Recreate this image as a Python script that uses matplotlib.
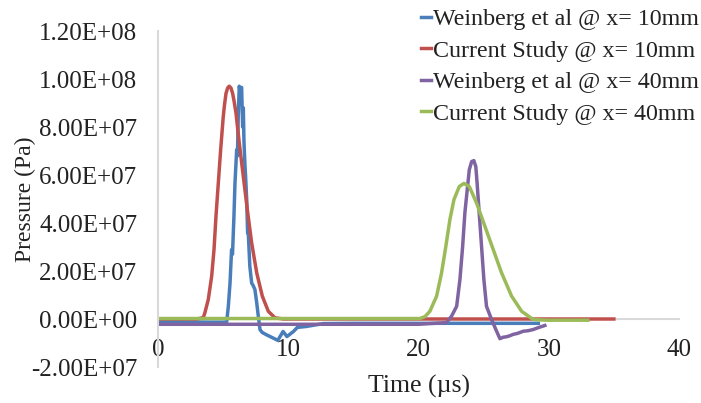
import matplotlib
matplotlib.use("Agg")
import matplotlib.pyplot as plt

plt.rcParams['font.family'] = ['Liberation Serif', 'DejaVu Serif']

# Weinberg et al, x = 10 mm (measured)
t_w10 = [0.0, 2.0, 4.0, 5.27, 5.4, 5.53, 5.65, 5.72, 5.83, 5.91, 6.04, 6.1, 6.16, 6.24,
         6.3, 6.42, 6.5, 6.55, 6.6, 6.68, 6.72, 6.81, 6.88, 6.93, 7.05, 7.19, 7.3, 7.44,
         7.58, 7.7, 7.83, 8.0, 8.3, 8.6, 9.2, 9.6, 9.9, 10.4, 10.7, 11.4, 12.7, 15.0,
         20.0, 25.0, 29.2]
p_w10 = [-1.2e6, -1.2e6, -1.3e6, -1.3e6, 5.3e6, 15e6, 28.9e6, 27e6, 42.7e6, 56.6e6,
         70.5e6, 68e6, 84.3e6, 97e6, 95e6, 96.5e6, 80e6, 88e6, 74e6, 63.5e6, 60e6,
         49.7e6, 35.8e6, 36e6, 22e6, 15e6, 14e6, 12.3e6, 6.7e6, 1.2e6, -4.4e6, -5.6e6,
         -6.5e6, -7.3e6, -8.9e6, -5.2e6, -7.3e6, -5.2e6, -3.5e6, -3.1e6, -1.9e6, -1.8e6,
         -1.8e6, -1.8e6, -1.8e6]

# Current study, x = 10 mm
t_c10 = [0.0, 3.0, 3.48, 3.6, 3.86, 4.12, 4.3, 4.45, 4.63, 4.81, 5.01, 5.1, 5.22,
         5.35, 5.47, 5.6, 5.73, 5.85, 5.99, 6.24, 6.55, 6.86, 7.19, 7.58, 8.01, 8.47,
         8.98, 9.62, 15.0, 25.0, 35.0]
p_c10 = [0.0, 0.0, 0.6e6, 2.6e6, 8.1e6, 17.8e6, 28.9e6, 42.7e6, 56.6e6, 70.5e6,
         84.3e6, 89e6, 94e6, 96.3e6, 97e6, 96.3e6, 94e6, 90.5e6, 85.7e6, 73.3e6,
         59.4e6, 45.5e6, 31.7e6, 19.2e6, 9.5e6, 3.2e6, 0.5e6, 0.0, 0.0, 0.0, 0.0]

# Weinberg et al, x = 40 mm (measured)
t_w40 = [0.0, 5.0, 10.0, 15.0, 20.0, 22.15, 22.54, 22.93, 23.18, 23.39, 23.56, 23.74,
         23.9, 24.08, 24.25, 24.4, 24.5, 24.66, 24.84, 25.02, 25.22, 25.61, 25.94,
         26.25, 26.5, 26.76, 27.0, 27.27, 27.6, 28.04, 28.4, 28.8, 29.2, 29.7]
p_w40 = [-2.2e6, -2.2e6, -2.2e6, -2.2e6, -2.2e6, -1.5e6, 1.2e6, 5.3e6, 16.4e6,
         30.3e6, 44.2e6, 53.8e6, 62.2e6, 65.6e6, 66e6, 63.5e6, 56.6e6, 44.2e6,
         30.3e6, 16.4e6, 5.3e6, -0.2e6, -4.4e6, -8.2e6, -7.6e6, -7.4e6, -7.0e6,
         -6.4e6, -6.0e6, -5.1e6, -4.9e6, -4.4e6, -3.6e6, -2.7e6]

# Current study, x = 40 mm
t_c40 = [0.0, 10.0, 20.1, 20.5, 20.87, 21.39, 21.77, 22.1, 22.41, 22.72, 23.13,
         23.49, 23.9, 24.46, 25.1, 25.74, 26.38, 27.15, 27.92, 28.8, 29.83, 33.0]
p_c40 = [0.2e6, 0.2e6, 0.2e6, 1.0e6, 3.2e6, 9.5e6, 19.2e6, 30.3e6, 41.4e6, 49.7e6,
         55.2e6, 56.5e6, 55.2e6, 48.3e6, 38.6e6, 28.9e6, 19.2e6, 9.5e6, 3.2e6,
         -0.2e6, -0.5e6, -0.5e6]

y_ticks = [-2e7, 0, 2e7, 4e7, 6e7, 8e7, 1e8, 1.2e8]
y_labels = ['-2.00E+07', '0.00E+00', '2.00E+07', '4.00E+07', '6.00E+07',
            '8.00E+07', '1.00E+08', '1.20E+08']
x_ticks = [0, 10, 20, 30, 40]

W, H = 701, 403
fig = plt.figure(figsize=(W / 100, H / 100), dpi=100)
ax = fig.add_axes([158 / W, 1 - 367 / H, 521 / W, 336 / H])

lw = 2.5
ax.plot(t_w10, p_w10, color='#4A7EBB', lw=lw, label='Weinberg et al @ x= 10mm')
ax.plot(t_c10, p_c10, color='#C0504D', lw=lw, label='Current Study @ x= 10mm')
ax.plot(t_w40, p_w40, color='#8064A2', lw=lw, label='Weinberg et al @ x= 40mm')
ax.plot(t_c40, p_c40, color='#9BBB59', lw=lw, label='Current Study @ x= 40mm')

ax.set_xlim(0, 40)
ax.set_ylim(-2e7, 1.2e8)
ax.set_xticks(x_ticks)
ax.set_xticklabels([str(v) for v in x_ticks])
ax.set_yticks(y_ticks)
ax.set_yticklabels(y_labels)

# axis lines like the spreadsheet: x axis crossing at zero
for s in ['top', 'right']:
    ax.spines[s].set_visible(False)
ax.spines['bottom'].set_position(('data', 0))
ax.spines['bottom'].set_color('#D9D9D9')
ax.spines['bottom'].set_linewidth(1.5)
ax.spines['bottom'].set_zorder(0)
ax.spines['left'].set_color('#D9D9D9')
ax.spines['left'].set_linewidth(1.5)
ax.tick_params(axis='both', length=0, labelsize=18, colors='#222222')
ax.tick_params(axis='y', pad=15)
ax.tick_params(axis='x', pad=14.5)

# axis titles
fig.text(419 / W, 1 - 386 / H, 'Time (\u00b5s)', fontsize=18.5, color='#222222',
         ha='center', va='center')
fig.text(25 / W, 1 - 199 / H, 'Pressure (Pa)', fontsize=17, color='#222222',
         ha='center', va='center', rotation=90)

leg = fig.legend(loc='upper left', bbox_to_anchor=(419 / W, 1 - 6 / H), frameon=False,
                 fontsize=17.3, handlelength=0.42, handletextpad=0.06, borderpad=0.1,
                 labelspacing=0.4, borderaxespad=0)
for txt in leg.get_texts():
    txt.set_color('#222222')

fig.savefig('out.png', dpi=100)
